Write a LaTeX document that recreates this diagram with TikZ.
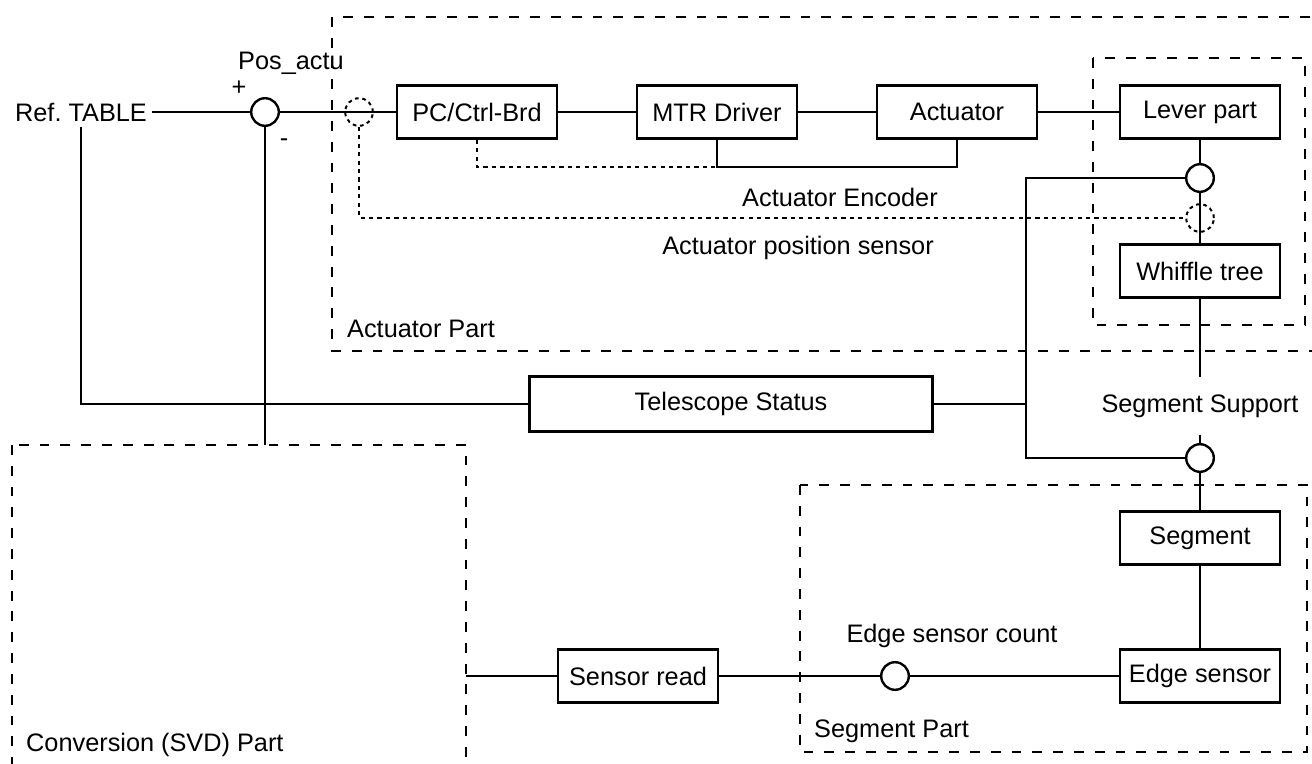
\documentclass[tikz,border=0pt]{standalone}
\usepackage{fontspec}
\setmainfont{Liberation Sans}
\usetikzlibrary{positioning}

\tikzstyle{block} = [draw, line width=1.7pt, rectangle, minimum width=40mm,
  minimum height=13.25mm, inner sep=0pt]
\tikzstyle{junct} = [draw, line width=1.7pt, circle, fill=white,
  minimum size=6.9mm, inner sep=0pt]
\tikzstyle{pickoff} = [draw, circle, line width=1.4pt,
  dash pattern=on 2.6pt off 2.6pt, minimum size=6.9mm, inner sep=0pt]
\tikzstyle{sig} = [line width=1.5pt, dash pattern=on 3pt off 3pt]
\tikzstyle{part} = [line width=1.7pt, dash pattern=on 7pt off 7.8pt]
\tikzstyle{lbl} = [inner sep=0pt]

\begin{document}
\frenchspacing
\begin{tikzpicture}[x=0.25mm, y=-0.25mm, line width=1.7pt,
    every node/.style={font=\fontsize{18}{21}\selectfont}]
        \useasboundingbox (0,0) rectangle (1312,763);

        % part frames
        \draw[part] (332,17) rectangle (1340,351);
        \draw[part] (1093,58) rectangle (1305,325);
        \draw[part] (12,445) rectangle (466,790);
        \draw[part] (800,485) rectangle (1307,752);
        \coordinate (convNE) at (466,445);
        \node [lbl, anchor=west] at (346,329) {Actuator Part};
        \node [lbl, anchor=west] at (25,745)  {Conversion (SVD) Part};
        \node [lbl, anchor=west] at (813,731) {Segment Part};

        % actuator chain
        \node [inner sep=3pt] (ref)   at (81,112)  {Ref. TABLE};
        \node [junct]   (sum)     at (265,112) {};
        \node [lbl]               at (239,88)  {+};
        \node [lbl]               at (284,143) {-};
        \node [lbl]     (posact)  at (291,63)  {Pos\_actu};
        \node [pickoff] (sens1)   at (359,112) {};
        \node [block]   (pc)      at (477,112) {PC/Ctrl-Brd};
        \node [block]   (mtr)     at (717,112) {MTR Driver};
        \node [block]   (act)     at (957,112) {Actuator};
        \node [block]   (lever)   at (1200,112) {Lever part};
        \node [junct]   (c1)      at (1200,178) {};
        \node [pickoff] (sens2)   at (1200,218) {};
        \node [block]   (whiffle) at (1200,271) {Whiffle tree};
        \node [lbl, minimum height=13.75mm] (support) at (1200,406) {Segment Support};
        \node [junct]   (c2)      at (1200,458) {};
        \node [block]   (segment) at (1200,538) {Segment};
        \node [block]   (edge)    at (1200,676) {Edge sensor};
        \node [junct]   (esc)     at (895,676) {};
        \node [block]   (sread)   at (638,676) {Sensor read};
        \node [block, minimum width=100.75mm, minimum height=13.75mm]
                        (tel)     at (731,404) {Telescope Status};
        \node [lbl] at (840,197) {Actuator Encoder};
        \node [lbl] at (798,248) {Actuator position sensor};
        \node [lbl] at (952,636) {Edge sensor count};

        \coordinate (enc) at (717,167);
        \coordinate (j)   at (1026,404);

        \draw (ref.east) -- (sum.west);
        \draw (sum.east) -- (pc.west);
        \draw (pc.east) -- (mtr.west);
        \draw (mtr.east) -- (act.west);
        \draw (act.east) -- (lever.west);
        \draw (mtr.south) -- (enc) -| (act.south);
        \draw[sig] (pc.south) |- (enc);
        \draw[sig] (sens1.south) |- (sens2.west);
        \draw (lever.south) -- (c1.north);
        \draw (c1.south) -- (whiffle.north);
        \draw (whiffle.south) -- (support.north);
        \draw (support.south) -- (c2.north);
        \draw (c2.south) -- (segment.north);
        \draw (segment.south) -- (edge.north);
        \draw (c1.west) -| (j) |- (c2.west);
        \draw (tel.east) -- (j);
        \draw (ref.south) |- (tel.west);
        \draw (sum.south) -- (sum.south |- convNE);
        \draw (edge.west) -- (esc.east);
        \draw (esc.west) -- (sread.east);
        \draw (sread.west) -- (sread.west -| convNE);
      \end{tikzpicture}
\end{document}
